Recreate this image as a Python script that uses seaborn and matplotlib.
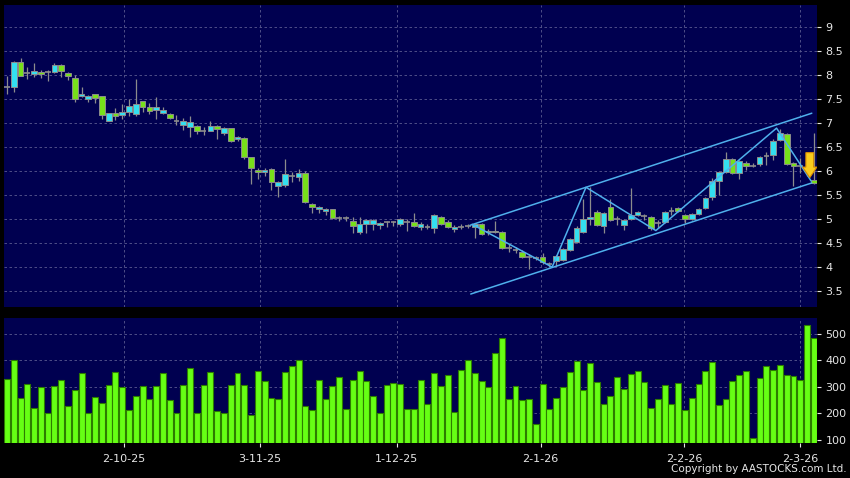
import matplotlib
matplotlib.use('Agg')
import matplotlib.pyplot as plt
from matplotlib.patches import FancyArrow
import numpy as np
import seaborn as sns

# daily OHLC (oldest first)
opens = [7.74, 7.74, 8.27, 8.03, 8.02, 8.05, 8.06, 8.05, 8.20, 8.03,
         7.93, 7.55, 7.49, 7.59, 7.55, 7.04, 7.20, 7.16, 7.22, 7.19,
         7.45, 7.32, 7.26, 7.21, 7.18, 7.04, 6.95, 6.92, 6.93, 6.84,
         6.84, 6.93, 6.78, 6.89, 6.66, 6.68, 6.28, 6.02, 5.97, 6.04,
         5.68, 5.70, 5.89, 5.87, 5.95, 5.31, 5.20, 5.17, 5.20, 5.03,
         5.03, 4.95, 4.73, 4.89, 4.89, 4.87, 4.94, 4.93, 4.89, 4.93,
         4.94, 4.83, 4.84, 4.81, 5.05, 4.93, 4.80, 4.84, 4.85, 4.84,
         4.89, 4.72, 4.72, 4.74, 4.40, 4.35, 4.31, 4.21, 4.19, 4.21,
         4.06, 4.13, 4.15, 4.36, 4.53, 4.73, 4.99, 5.15, 4.85, 5.24,
         5.00, 4.87, 5.00, 5.08, 5.06, 5.05, 4.92, 4.93, 5.17, 5.22,
         5.09, 4.99, 5.11, 5.22, 5.45, 5.79, 5.98, 6.24, 5.95, 6.16,
         6.11, 6.14, 6.32, 6.34, 6.64, 6.76, 6.16, 6.11, 6.08, 5.82]
highs = [7.97, 8.28, 8.34, 8.16, 8.25, 8.10, 8.10, 8.24, 8.22, 8.05,
         8.00, 7.75, 7.57, 7.60, 7.56, 7.21, 7.30, 7.40, 7.50, 7.91,
         7.46, 7.42, 7.54, 7.33, 7.20, 7.16, 7.10, 7.14, 6.95, 6.91,
         7.04, 6.95, 6.92, 6.90, 6.72, 6.70, 6.30, 6.07, 6.07, 6.06,
         5.80, 6.25, 5.98, 6.04, 5.99, 5.33, 5.27, 5.22, 5.21, 5.06,
         5.06, 5.05, 5.05, 5.00, 5.00, 4.93, 4.96, 4.95, 5.03, 5.01,
         5.12, 4.93, 4.89, 5.10, 5.07, 4.97, 4.87, 4.89, 4.89, 4.92,
         4.92, 4.79, 4.96, 4.76, 4.49, 4.41, 4.35, 4.28, 4.23, 4.30,
         4.11, 4.26, 4.40, 4.60, 4.86, 5.42, 5.67, 5.18, 5.15, 5.41,
         5.06, 5.00, 5.64, 5.17, 5.10, 5.07, 4.97, 5.16, 5.25, 5.25,
         5.11, 5.13, 5.23, 5.46, 5.86, 6.00, 6.40, 6.26, 6.23, 6.20,
         6.16, 6.32, 6.40, 6.66, 6.87, 6.78, 6.18, 6.26, 6.20, 6.78]
lows = [7.61, 7.64, 7.97, 7.91, 7.96, 7.93, 7.88, 8.04, 7.96, 7.89,
        7.43, 7.53, 7.43, 7.42, 7.09, 7.03, 7.06, 7.07, 7.15, 7.15,
        7.22, 7.19, 7.09, 7.18, 7.08, 6.96, 6.85, 6.71, 6.76, 6.74,
        6.82, 6.66, 6.74, 6.60, 6.62, 6.24, 5.73, 5.83, 5.90, 5.60,
        5.46, 5.66, 5.76, 5.80, 5.34, 5.12, 5.12, 5.08, 4.99, 4.95,
        4.95, 4.70, 4.68, 4.71, 4.77, 4.80, 4.83, 4.85, 4.86, 4.75,
        4.84, 4.77, 4.79, 4.71, 4.88, 4.81, 4.73, 4.80, 4.81, 4.61,
        4.66, 4.67, 4.70, 4.38, 4.32, 4.30, 4.18, 3.96, 4.15, 4.06,
        4.00, 4.03, 4.12, 4.33, 4.51, 4.71, 4.87, 4.85, 4.71, 4.96,
        4.87, 4.77, 4.98, 5.06, 4.98, 4.78, 4.81, 4.91, 5.08, 5.15,
        4.91, 4.97, 5.09, 5.21, 5.39, 5.50, 5.96, 5.94, 5.83, 6.02,
        6.08, 6.10, 6.12, 6.23, 6.62, 6.12, 5.69, 5.95, 5.90, 5.72]
closes = [7.74, 8.27, 7.98, 8.03, 8.08, 8.01, 8.06, 8.20, 8.07, 7.97,
          7.49, 7.61, 7.56, 7.51, 7.16, 7.20, 7.14, 7.22, 7.34, 7.39,
          7.32, 7.24, 7.32, 7.27, 7.11, 7.04, 7.03, 7.01, 6.82, 6.84,
          6.93, 6.87, 6.89, 6.62, 6.70, 6.28, 6.07, 5.97, 6.02, 5.78,
          5.78, 5.93, 5.89, 5.95, 5.36, 5.24, 5.24, 5.20, 5.03, 5.03,
          5.03, 4.85, 4.89, 4.97, 4.97, 4.91, 4.94, 4.93, 5.01, 4.93,
          4.85, 4.89, 4.84, 5.09, 4.89, 4.83, 4.83, 4.84, 4.85, 4.89,
          4.69, 4.76, 4.76, 4.40, 4.40, 4.35, 4.20, 4.21, 4.19, 4.10,
          4.06, 4.24, 4.37, 4.58, 4.81, 5.01, 5.05, 4.87, 5.12, 4.98,
          5.00, 4.98, 5.09, 5.15, 5.06, 4.81, 4.92, 5.14, 5.17, 5.17,
          4.99, 5.11, 5.21, 5.43, 5.80, 5.97, 6.24, 5.96, 6.21, 6.10,
          6.11, 6.28, 6.32, 6.63, 6.78, 6.14, 6.11, 6.11, 6.03, 5.74]
volumes = [329, 401, 258, 310, 220, 299, 201, 305, 325, 227,
           289, 353, 201, 262, 240, 306, 358, 299, 213, 267,
           304, 256, 305, 352, 250, 203, 306, 370, 203, 306,
           355, 208, 203, 306, 353, 307, 193, 359, 323, 258,
           255, 358, 379, 403, 228, 212, 325, 255, 305, 338,
           216, 326, 362, 324, 265, 203, 309, 314, 310, 216,
           216, 325, 236, 353, 304, 344, 206, 363, 401, 352,
           324, 300, 428, 484, 255, 303, 252, 255, 159, 310,
           218, 257, 301, 355, 399, 288, 389, 320, 235, 265,
           338, 292, 350, 359, 320, 221, 254, 308, 235, 314,
           214, 257, 311, 359, 393, 231, 255, 324, 346, 359,
           108, 334, 378, 364, 383, 345, 340, 328, 534, 486]

date_pos = [17.2, 37.3, 57.5, 78.7, 99.9, 117.0]
date_labels = ['2-10-25', '3-11-25', '1-12-25', '2-1-26', '2-2-26', '2-3-26']
price_ticks = [3.5, 4, 4.5, 5, 5.5, 6, 6.5, 7, 7.5, 8, 8.5, 9]
vol_ticks = [100, 200, 300, 400, 500]

# drawn trend lines (bar index, price)
zigzag_x = [68.6, 80.4, 85.4, 95.7, 113.5, 118.6]
zigzag_y = [4.89, 4.00, 5.66, 4.76, 6.89, 5.79]
upper_x, upper_y = [68.3, 118.7], [4.87, 7.20]
lower_x, lower_y = [68.4, 118.7], [3.44, 5.75]
arrow_x, arrow_top, arrow_tip = 118.4, 6.38, 5.86

BG = '#000050'
UP = '#33dff0'
DOWN = '#77e01a'
WICK = '#8c8c8c'
LINE = '#4fb0ec'
TXT = '#e6e6e6'
GRID = '#5a5a90'

sns.set_style('dark')
plt.rcParams['font.family'] = ['DejaVu Sans']

fig = plt.figure(figsize=(8.5, 4.78), dpi=100, facecolor='black')
ax = fig.add_axes([0.0047, 0.3577, 0.9565, 0.6318])
axv = fig.add_axes([0.0047, 0.0732, 0.9565, 0.2615])

idx = np.arange(len(closes))
o, h, l, c = map(np.array, (opens, highs, lows, closes))

# candles
ax.vlines(idx, l, h, color=WICK, lw=0.9, zorder=3)
up = c > o
down = c < o
flat = c == o
ax.bar(idx[up], (c - o)[up], bottom=o[up], width=0.84, color=UP,
       edgecolor=WICK, linewidth=0.7, zorder=4)
ax.bar(idx[down], (o - c)[down], bottom=c[down], width=0.84, color=DOWN,
       edgecolor=WICK, linewidth=0.7, zorder=4)
ax.hlines(c[flat], idx[flat] - 0.42, idx[flat] + 0.42, color=WICK, lw=1.2, zorder=4)

# channel + zigzag
ax.plot(upper_x, upper_y, color=LINE, lw=1.1, zorder=5)
ax.plot(lower_x, lower_y, color=LINE, lw=1.1, zorder=5)
ax.plot(zigzag_x, zigzag_y, color=LINE, lw=1.1, zorder=5)

# yellow down arrow at the last bar
head_len = 0.22
ax.add_patch(FancyArrow(arrow_x, arrow_top, 0, arrow_tip - arrow_top,
                        width=1.15, head_width=2.1, head_length=head_len,
                        length_includes_head=True, fc='#f8cc1c', ec='#d98c00',
                        lw=0.8, zorder=6))

# volume
sns.barplot(x=idx, y=volumes, native_scale=True, color='#66ff14', saturation=1,
            edgecolor='#2d7d00', linewidth=0.8, width=0.88, errorbar=None, ax=axv)

for a in (ax, axv):
    a.set_facecolor(BG)
    a.set_xlim(-0.44, 119.47)
    for s in a.spines.values():
        s.set_visible(False)
    a.yaxis.tick_right()
    a.tick_params(axis='y', colors=TXT, labelsize=8, length=3, width=0.8, pad=3,
                  right=True, left=False)
    a.set_xticks(date_pos)
    a.grid(True, color=GRID, linestyle=(0, (3, 3)), lw=0.6)
    a.set_axisbelow(True)
    a.set_xlabel('')
    a.set_ylabel('')

ax.set_ylim(3.17, 9.45)
ax.set_yticks(price_ticks)
ax.set_yticklabels([f'{t:g}' for t in price_ticks])
ax.tick_params(axis='x', bottom=False, labelbottom=False)

axv.set_ylim(88.7, 560)
axv.set_yticks(vol_ticks)
axv.set_yticklabels([str(t) for t in vol_ticks])
axv.set_xticklabels(date_labels)
axv.tick_params(axis='x', colors=TXT, labelsize=8, length=3, width=0.8, pad=5,
                bottom=True)

fig.text(0.996, 0.008, 'Copyright by AASTOCKS.com Ltd.', ha='right', va='bottom',
         fontsize=7.5, color=TXT)

fig.savefig('out.png', dpi=100, facecolor='black')
